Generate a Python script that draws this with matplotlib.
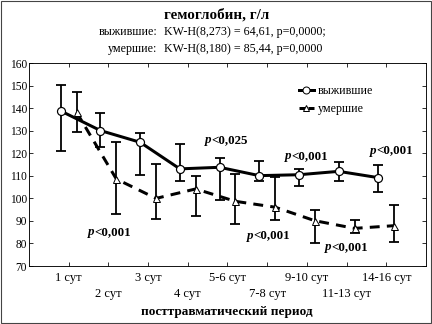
import numpy as np
import matplotlib
matplotlib.use("Agg")
import matplotlib.pyplot as plt
from matplotlib.lines import Line2D
from matplotlib.patches import Rectangle

plt.rcParams['font.family'] = ['Liberation Serif', 'DejaVu Serif']

periods = ['1 сут', '2 сут', '3 сут', '4 сут', '5-6 сут', '7-8 сут',
           '9-10 сут', '11-13 сут', '14-16 сут']

# выжившие: median, upper and lower whisker
surv = [138.8, 130.1, 124.9, 113.1, 113.8, 110.1, 110.5, 112.0, 109.2]
surv_hi = [150.4, 138.1, 129.2, 124.2, 118.0, 116.8, 113.0, 116.0, 114.8]
surv_lo = [121.2, 123.0, 110.4, 107.9, 99.4, 107.7, 105.7, 107.9, 103.0]

# умершие
died = [138.2, 108.6, 100.0, 104.2, 98.7, 96.1, 90.1, 86.7, 87.9]
died_hi = [147.3, 125.1, 115.2, 110.1, 111.0, 109.6, 94.9, 90.4, 97.0]
died_lo = [129.4, 93.2, 91.0, 92.2, 88.5, 90.4, 80.1, 84.5, 80.8]

# significance labels: x where "p" ends (category units), y, text
p_x = [0.65, 3.60, 5.61, 7.75, 4.65, 6.62]
p_y = [85.1, 126.0, 118.8, 121.2, 83.5, 78.3]
p_txt = ['0,001', '0,025', '0,001', '0,001', '0,001', '0,001']

x = np.arange(len(periods))
xs = x - 0.2
xd = x + 0.2

fig = plt.figure(figsize=(6, 4.5), dpi=72)
ax = fig.add_axes([0.0671, 0.179, 0.919, 0.626])

s = np.array(surv)
d = np.array(died)
ax.errorbar(xs, s, yerr=[s - np.array(surv_lo), np.array(surv_hi) - s],
            fmt='none', ecolor='black', elinewidth=1.8, capsize=5, capthick=1.8, zorder=2)
ax.errorbar(xd, d, yerr=[d - np.array(died_lo), np.array(died_hi) - d],
            fmt='none', ecolor='black', elinewidth=1.8, capsize=5, capthick=1.8, zorder=2)
ax.plot(xs, s, color='black', lw=3, marker='o', ms=8, mfc='white', mec='black',
        mew=1.2, zorder=3)
ax.plot(xd, d, color='black', lw=3, ls=(0, (3.3, 2.4)), marker='^', ms=7,
        mfc='white', mec='black', mew=1.0, zorder=3)

for px, py, t in zip(p_x, p_y, p_txt):
    ax.text(px, py, 'p', fontsize=13, fontweight='bold', fontstyle='italic',
            ha='right', va='center')
    ax.text(px, py, '<' + t, fontsize=13, fontweight='bold', ha='left', va='center')

ax.set_xlim(-1, 9)
ax.set_ylim(70, 160)
ax.set_yticks(np.arange(70, 161, 10))
ax.set_xticks(x)
ax.set_xticklabels([])
for i, lab in enumerate(periods):
    ax.text(i, -0.03 if i % 2 == 0 else -0.11, lab, fontsize=12.5,
            ha='center', va='top', transform=ax.get_xaxis_transform())
ax.tick_params(direction='in', top=True, right=True, length=4, width=0.8,
               labelsize=11.5, pad=2)
for sp in ax.spines.values():
    sp.set_linewidth(0.9)

handles = [Line2D([], [], color='black', lw=3, marker='o', ms=7, mfc='white', mec='black'),
           Line2D([], [], color='black', lw=3, ls=(0, (2, 1)), marker='^', ms=6,
                  mfc='white', mec='black')]
ax.legend(handles, ['выжившие', 'умершие'], loc='upper left',
          bbox_to_anchor=(0.68, 0.89), frameon=False, fontsize=12,
          handlelength=1.25, handletextpad=0.3, borderpad=0, borderaxespad=0,
          labelspacing=0.45)

fig.text(217 / 432, 1 - 15 / 324, 'гемоглобин, г/л', fontsize=15,
         fontweight='bold', ha='center', va='center')
fig.text(157 / 432, 1 - 32 / 324, 'выжившие:', fontsize=12, ha='right', va='center')
fig.text(164 / 432, 1 - 32 / 324, 'KW-H(8,273) = 64,61, p=0,0000;', fontsize=12,
         ha='left', va='center')
fig.text(157 / 432, 1 - 49 / 324, 'умершие:', fontsize=12, ha='right', va='center')
fig.text(164 / 432, 1 - 49 / 324, 'KW-H(8,180) = 85,44, p=0,0000', fontsize=12,
         ha='left', va='center')
fig.text(227 / 432, 1 - 312 / 324, 'посттравматический период', fontsize=13.3,
         fontweight='bold', ha='center', va='center')

fig.patches.append(Rectangle((0.002, 0.003), 0.995, 0.994, transform=fig.transFigure,
                             fill=False, edgecolor='#444444', lw=1.1))

fig.savefig('out.png', dpi=72)
